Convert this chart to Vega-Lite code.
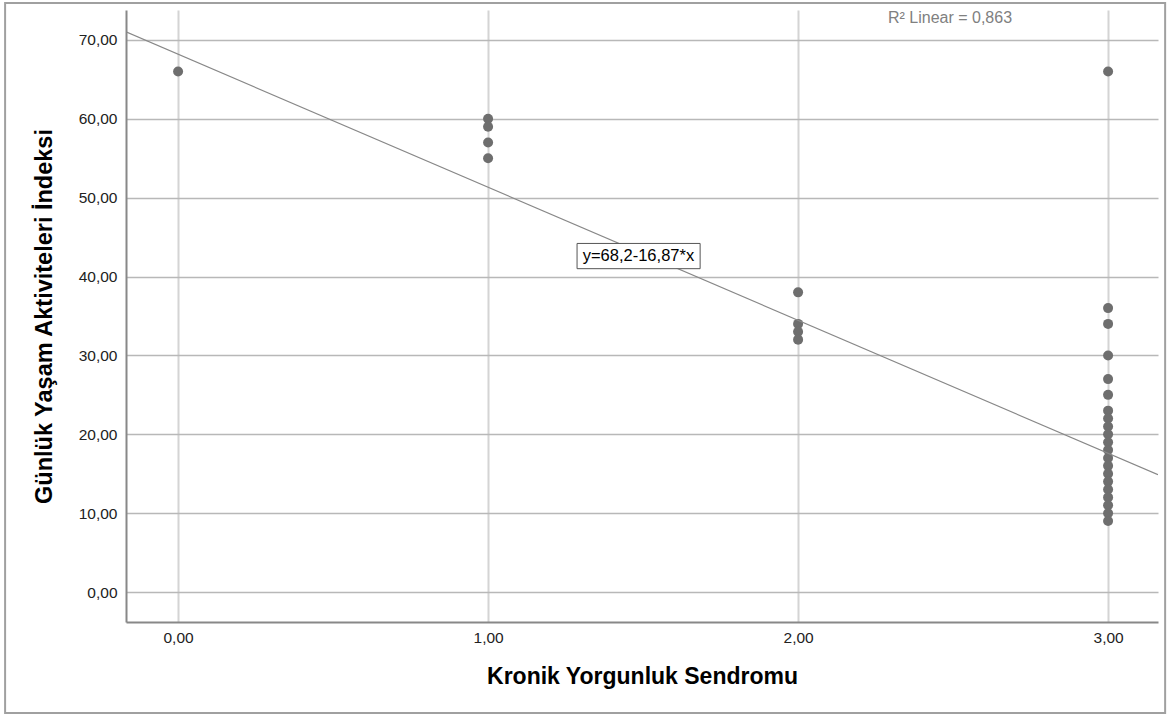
{
  "$schema": "https://vega.github.io/schema/vega-lite/v6.json",
  "width": 1032,
  "height": 612,
  "autosize": "none",
  "padding": {"left": 126, "top": 10, "right": 14, "bottom": 93},
  "background": "white",
  "config": {
    "view": {"stroke": null},
    "font": "Liberation Sans"
  },
  "datasets": {
    "pts": [
      {"kys": 0, "gya": 66},
      {"kys": 1, "gya": 60}, {"kys": 1, "gya": 59}, {"kys": 1, "gya": 57}, {"kys": 1, "gya": 55},
      {"kys": 2, "gya": 38}, {"kys": 2, "gya": 34}, {"kys": 2, "gya": 33}, {"kys": 2, "gya": 32},
      {"kys": 3, "gya": 66}, {"kys": 3, "gya": 36}, {"kys": 3, "gya": 34}, {"kys": 3, "gya": 30},
      {"kys": 3, "gya": 27}, {"kys": 3, "gya": 25}, {"kys": 3, "gya": 23}, {"kys": 3, "gya": 22},
      {"kys": 3, "gya": 21}, {"kys": 3, "gya": 20}, {"kys": 3, "gya": 19}, {"kys": 3, "gya": 18},
      {"kys": 3, "gya": 17}, {"kys": 3, "gya": 16}, {"kys": 3, "gya": 15}, {"kys": 3, "gya": 14},
      {"kys": 3, "gya": 13}, {"kys": 3, "gya": 12}, {"kys": 3, "gya": 11}, {"kys": 3, "gya": 10},
      {"kys": 3, "gya": 9}
    ],
    "fit": [
      {"kys": -0.168, "gya": 71.03},
      {"kys": 3.161, "gya": 14.87}
    ],
    "one": [{"note": "annotation"}]
  },
  "layer": [
    {
      "data": {"name": "one"},
      "mark": {"type": "rect", "fill": null, "stroke": "#a0a0a0", "strokeWidth": 2, "clip": false},
      "encoding": {
        "x": {"datum": -0.558, "type": "quantitative", "scale": {"domain": [-0.168, 3.161], "nice": false, "zero": false}},
        "x2": {"datum": 3.184},
        "y": {"datum": 74.69, "type": "quantitative", "scale": {"domain": [-3.8, 73.8], "nice": false, "zero": false}},
        "y2": {"datum": -15.34}
      }
    },
    {
      "data": {"name": "pts"},
      "mark": {"type": "point", "filled": true, "size": 100, "color": "#6e6e6e", "opacity": 1},
      "encoding": {
        "x": {
          "field": "kys", "type": "quantitative",
          "scale": {"domain": [-0.168, 3.161], "nice": false, "zero": false},
          "axis": {
            "values": [0, 1, 2, 3],
            "labelExpr": "replace(format(datum.value, '.2f'), '.', ',')",
            "title": "Kronik Yorgunluk Sendromu",
            "titleFont": "Liberation Sans", "titleFontSize": 23, "titleFontWeight": "bold", "titleColor": "#000000",
            "titlePadding": 20,
            "labelFont": "Liberation Sans", "labelFontSize": 15.5, "labelColor": "#222222", "labelPadding": 8,
            "ticks": false,
            "domainColor": "#888888", "domainWidth": 2,
            "grid": true, "gridColor": "#d4d4d4", "gridWidth": 2
          }
        },
        "y": {
          "field": "gya", "type": "quantitative",
          "scale": {"domain": [-3.8, 73.8], "nice": false, "zero": false},
          "axis": {
            "values": [0, 10, 20, 30, 40, 50, 60, 70],
            "labelExpr": "replace(format(datum.value, '.2f'), '.', ',')",
            "title": "Günlük Yaşam Aktiviteleri İndeksi",
            "titleFont": "Liberation Sans", "titleFontSize": 23.5, "titleFontWeight": "bold", "titleColor": "#000000",
            "titlePadding": 22,
            "labelFont": "Liberation Sans", "labelFontSize": 15.5, "labelColor": "#222222", "labelPadding": 9,
            "ticks": false,
            "domainColor": "#888888", "domainWidth": 2,
            "grid": true, "gridColor": "#b8b8b8", "gridWidth": 1.5
          }
        }
      }
    },
    {
      "data": {"name": "fit"},
      "mark": {"type": "line", "color": "#888888", "strokeWidth": 1.2, "clip": true},
      "encoding": {
        "x": {"field": "kys", "type": "quantitative"},
        "y": {"field": "gya", "type": "quantitative"}
      }
    },
    {
      "data": {"name": "one"},
      "mark": {"type": "rect", "fill": "white", "stroke": "#555555", "strokeWidth": 1},
      "encoding": {
        "x": {"datum": 1.287, "type": "quantitative"},
        "x2": {"datum": 1.684},
        "y": {"datum": 44.2, "type": "quantitative"},
        "y2": {"datum": 41.0}
      }
    },
    {
      "data": {"name": "one"},
      "mark": {"type": "text", "font": "Liberation Sans", "fontSize": 16.5, "color": "#000000", "align": "center", "baseline": "middle"},
      "encoding": {
        "x": {"datum": 1.485, "type": "quantitative"},
        "y": {"datum": 42.6, "type": "quantitative"},
        "text": {"value": "y=68,2-16,87*x"}
      }
    },
    {
      "data": {"name": "one"},
      "mark": {"type": "text", "font": "Liberation Sans", "fontSize": 16, "color": "#808080", "align": "left", "baseline": "middle"},
      "encoding": {
        "x": {"datum": 2.29, "type": "quantitative"},
        "y": {"datum": 72.8, "type": "quantitative"},
        "text": {"value": "R² Linear = 0,863"}
      }
    }
  ]
}
